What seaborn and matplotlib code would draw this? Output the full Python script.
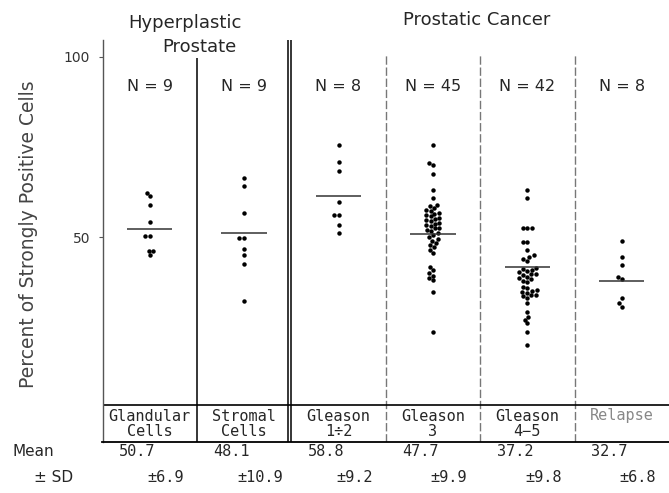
import pandas as pd
import matplotlib.pyplot as plt
import seaborn as sns

# column labels (order left to right)
categories = ['Glandular\nCells', 'Stromal\nCells', 'Gleason\n1÷2', 'Gleason\n3', 'Gleason\n4−5', 'Relapse']
n_labels = ['N = 9', 'N = 9', 'N = 8', 'N = 45', 'N = 42', 'N = 8']

# percent of strongly positive cells
glandular = [62.3, 61.4, 58.8, 54.3, 50.3, 50.3, 46.2, 46.2, 45.0]
stromal = [66.5, 64.3, 56.8, 49.6, 49.6, 46.6, 45.0, 42.4, 32.2]
gleason_12 = [75.6, 70.9, 68.4, 59.8, 56.1, 56.1, 53.3, 51.2]
gleason_3 = [75.6, 70.5, 70.0, 67.4, 63.1, 60.7, 59.0,
             58.5, 58.0, 57.6, 57.2, 56.8, 56.5, 56.0, 55.7, 55.3, 55.0,
             54.7, 54.4, 54.0, 53.7, 53.4, 53.0, 52.6, 52.4, 52.0, 51.6,
             51.0, 50.5, 50.0, 49.5, 49.0, 48.4, 47.8, 47.3,
             46.5, 45.5, 41.7, 40.8, 40.0, 39.3, 38.6, 38.0, 34.8, 23.7]
gleason_45 = [63.1, 60.7, 52.4, 52.4, 52.4, 48.7, 48.7, 46.4, 45.0, 44.5, 44.0, 43.4,
              41.3, 41.0, 40.9, 40.6, 40.2, 39.8, 39.6, 39.4, 39.0, 38.6, 38.2, 37.8, 37.4,
              36.2, 35.8, 35.3, 35.0, 34.8, 34.4, 34.0, 33.8, 33.5, 33.0,
              31.6, 29.3, 27.9, 27.0, 26.0, 23.7, 20.0]
relapse = [48.9, 44.4, 42.2, 38.8, 38.3, 33.0, 31.6, 30.6]

# level of the horizontal bar drawn in each column
bar_level = [52.3, 51.0, 61.5, 50.7, 41.6, 37.8]
# printed mean and SD under each column
means = ['50.7', '48.1', '58.8', '47.7', '37.2', '32.7']
sds = ['±6.9', '±10.9', '±9.2', '±9.9', '±9.8', '±6.8']

groups = [glandular, stromal, gleason_12, gleason_3, gleason_45, relapse]
df = pd.DataFrame({
    'group': [c for c, g in zip(categories, groups) for _ in g],
    'value': [v for g in groups for v in g],
})

sns.set_style('white')
plt.rcParams['font.family'] = ['DejaVu Sans']

fig = plt.figure(figsize=(6.69, 4.93), dpi=100)
ax = fig.add_axes([102.5 / 669, 1 - 442 / 493, 1 - 102.5 / 669, 402 / 493])

sns.swarmplot(data=df, x='group', y='value', order=categories, color='black',
              size=3.2, linewidth=0, ax=ax)

ax.set_xlim(-0.5, 5.5)
ax.set_ylim(-6.94, 104.72)
ax.set_xticks([])
ax.set_xlabel('')
ax.set_yticks([50, 100])
ax.set_yticklabels(['50', '100'], fontsize=10, color='#333333')
ax.tick_params(axis='y', length=3, width=0.8, color='#555555', pad=6, left=True)
ax.set_ylabel('Percent of Strongly Positive Cells', fontsize=13.5, color='#444444')
ax.yaxis.set_label_coords(-0.114, 0.517)

for side in ['top', 'right']:
    ax.spines[side].set_visible(False)
ax.spines['left'].set_color('#555555')
ax.spines['left'].set_linewidth(1.0)
ax.spines['bottom'].set_color('black')
ax.spines['bottom'].set_linewidth(1.3)

# bars for each column
for i, lvl in enumerate(bar_level):
    ax.hlines(lvl, i - 0.24, i + 0.24, color='#333333', lw=1.1, zorder=3)

# column dividers
ax.vlines(0.5, -6.94, 99.7, color='black', lw=1.1)
ax.vlines([1.46, 1.495], -6.94, 105, color='black', lw=1.1)
ax.vlines([2.5, 3.5, 4.5], -6.94, 100.5, color='#777777', lw=1.0, linestyles=(0, (6, 2)))

# label box line
ax.axhline(3.3, color='black', lw=1.2)

for i, cat in enumerate(categories):
    ax.text(i, 91.9, n_labels[i], ha='center', va='center', fontsize=11.5)
    if '\n' in cat:
        ax.text(i, -1.9, cat, ha='center', va='center', fontsize=11,
                family='DejaVu Sans Mono', linespacing=0.95)
    else:
        ax.text(i, 0.3, cat, ha='center', va='center', fontsize=11,
                family='DejaVu Sans Mono', color='#888888')
    ax.text(i - 0.13, -9.6, means[i], ha='center', va='center', fontsize=11,
            family='DejaVu Sans Mono', clip_on=False)
    ax.text(i + 0.17, -16.9, sds[i], ha='center', va='center', fontsize=11,
            family='DejaVu Sans Mono', clip_on=False)

# group headers
ax.text(0.37, 109.4, 'Hyperplastic', ha='center', va='center', fontsize=13, clip_on=False)
ax.text(0.53, 102.8, 'Prostate', ha='center', va='center', fontsize=13, clip_on=False)
ax.text(3.46, 110.3, 'Prostatic Cancer', ha='center', va='center', fontsize=13, clip_on=False)

fig.text(33 / 669, 1 - 451.7 / 493, 'Mean', ha='center', va='center', fontsize=11)
fig.text(54 / 669, 1 - 478 / 493, '± SD', ha='center', va='center', fontsize=11)

fig.savefig('out.png', dpi=100)
